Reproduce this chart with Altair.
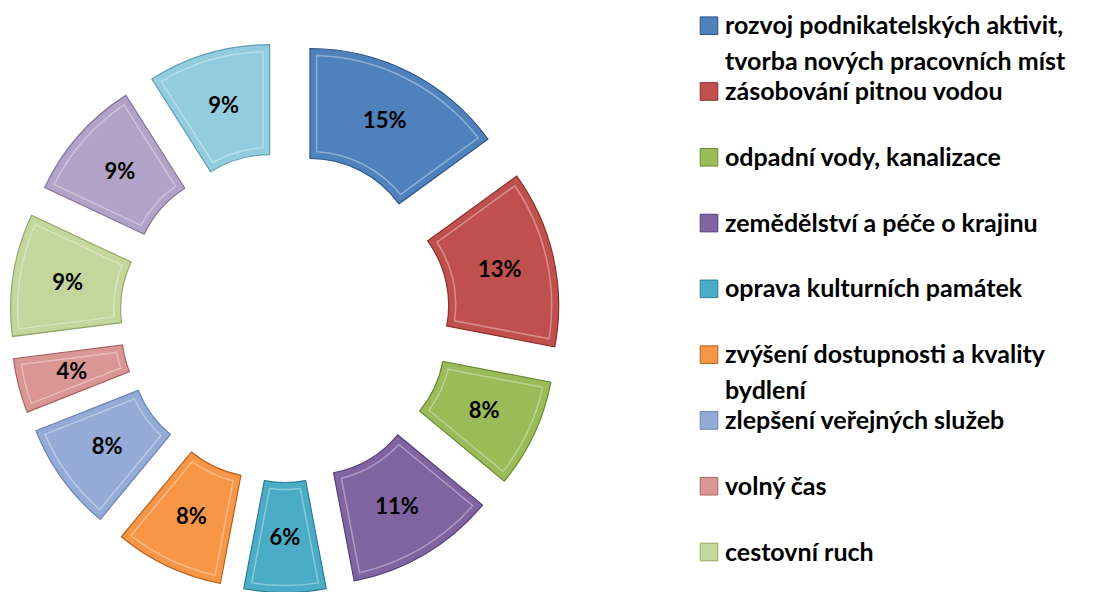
import altair as alt
import pandas as pd

categories = [
    "rozvoj podnikatelských aktivit, tvorba nových pracovních míst",
    "zásobování pitnou vodou",
    "odpadní vody, kanalizace",
    "zemědělství a péče o krajinu",
    "oprava kulturních památek",
    "zvýšení dostupnosti a kvality bydlení",
    "zlepšení veřejných služeb",
    "volný čas",
    "cestovní ruch",
    "oblast 10",
    "oblast 11",
]
values = [15, 13, 8, 11, 6, 8, 8, 4, 9, 9, 9]
labels = ["15%", "13%", "8%", "11%", "6%", "8%", "8%", "4%", "9%", "9%", "9%"]
colors = ["#4F81BD", "#C0504D", "#9BBB59", "#8064A2", "#4BACC6", "#F79646",
          "#95ABD7", "#D99694", "#C3D69B", "#B3A2C7", "#93CDDD"]
edges = ["#2E5585", "#8A2E2B", "#6A8A32", "#55407A", "#2A7E96", "#B8621C",
         "#6A82B0", "#A86462", "#93A86A", "#85739C", "#62A0B2"]
legend_labels = [
    "rozvoj podnikatelských aktivit,|tvorba nových pracovních míst",
    "zásobování pitnou vodou",
    "odpadní vody, kanalizace",
    "zemědělství a péče o krajinu",
    "oprava kulturních památek",
    "zvýšení dostupnosti a kvality|bydlení",
    "zlepšení veřejných služeb",
    "volný čas",
    "cestovní ruch",
]

df = pd.DataFrame({"cat": categories, "value": values, "label": labels,
                   "order": list(range(len(categories)))})
leg = pd.DataFrame({"cat": categories[:len(legend_labels)], "text": legend_labels,
                    "order": list(range(len(legend_labels)))})

CX, CY, D = 277, 309.5, 55
R0, R1 = 110, 220
FONT = "Lato"

color_scale = alt.Scale(domain=categories, range=colors)
stroke_scale = alt.Scale(domain=categories, range=edges)

base = alt.Chart(df).transform_joinaggregate(
    total="sum(value)"
).transform_window(
    cum="sum(value)", sort=[alt.SortField("order")], frame=[None, 0]
).transform_calculate(
    t0="(datum.cum - datum.value) / datum.total * 2 * PI",
    t1="datum.cum / datum.total * 2 * PI",
).transform_calculate(
    mid="(datum.t0 + datum.t1) / 2",
).transform_calculate(
    px=f"{CX} + {D} * sin(datum.mid)",
    py=f"{CY} - {D} * cos(datum.mid)",
    lx=f"{CX} + {D + (R0 + R1) / 2} * sin(datum.mid)",
    ly=f"{CY} - {D + (R0 + R1) / 2} * cos(datum.mid)",
)

arcs = base.mark_arc(innerRadius=R0, outerRadius=R1, strokeWidth=1.2).encode(
    theta=alt.Theta("t0:Q", scale=None, stack=None),
    theta2="t1:Q",
    x=alt.X("px:Q", scale=None),
    y=alt.Y("py:Q", scale=None),
    color=alt.Color("cat:N", scale=color_scale, legend=None),
    stroke=alt.Stroke("cat:N", scale=stroke_scale, legend=None),
)

bevel = base.mark_arc(innerRadius=R0 + 7, outerRadius=R1 - 7, padAngle=0.055,
                      fillOpacity=0, strokeWidth=1.5, strokeOpacity=0.35,
                      stroke="white").encode(
    theta=alt.Theta("t0:Q", scale=None, stack=None),
    theta2="t1:Q",
    x=alt.X("px:Q", scale=None),
    y=alt.Y("py:Q", scale=None),
)

texts = base.mark_text(font=FONT, fontWeight="bold", fontSize=22, color="black",
                       baseline="middle", align="center").encode(
    x=alt.X("lx:Q", scale=None),
    y=alt.Y("ly:Q", scale=None),
    text="label:N",
)

legend_base = alt.Chart(leg)
ypos = alt.Y("order:O", scale=alt.Scale(type="point", range=[17.7, 544], padding=0), axis=None)

leg_sym = legend_base.mark_square(size=310, opacity=1, strokeWidth=1).encode(
    x=alt.value(701),
    y=ypos,
    color=alt.Color("cat:N", scale=color_scale, legend=None),
    stroke=alt.Stroke("cat:N", scale=stroke_scale, legend=None),
)

leg_txt = legend_base.mark_text(font=FONT, fontWeight="bold", fontSize=25, color="black",
                                align="left", baseline="alphabetic", dy=8.5,
                                lineBreak="|", lineHeight=36).encode(
    x=alt.value(717),
    y=ypos,
    text="text:N",
)

chart = alt.layer(arcs, bevel, texts, leg_sym, leg_txt).resolve_scale(
    x="independent", y="independent"
).properties(width=1089, height=576, padding=0).configure_view(stroke=None)

chart.save("out.html", embed_options={"renderer": "svg", "actions": False})
